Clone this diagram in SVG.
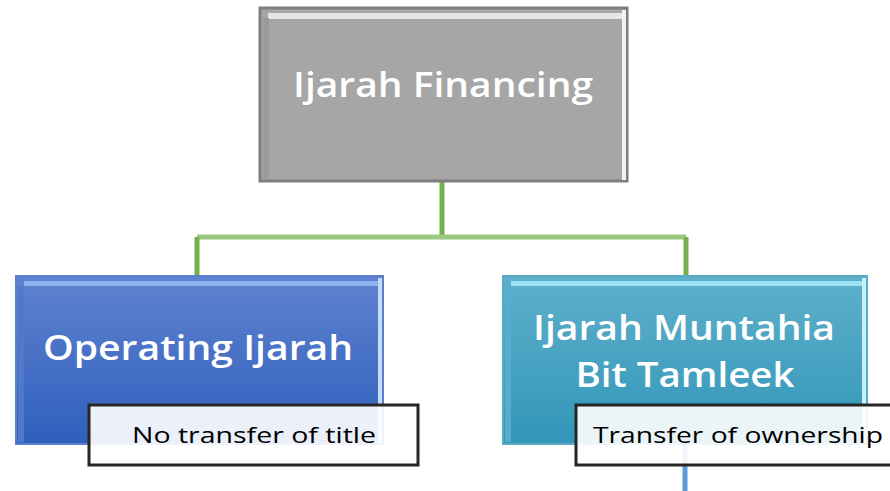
<svg xmlns="http://www.w3.org/2000/svg" width="890" height="491" viewBox="0 0 890 491">
<defs>
<linearGradient id="gBlue" x1="0" y1="0" x2="0" y2="1">
<stop offset="0" stop-color="#5f82cf"/>
<stop offset="1" stop-color="#2f60bd"/>
</linearGradient>
<linearGradient id="gTeal" x1="0" y1="0" x2="0" y2="1">
<stop offset="0" stop-color="#5eb0cb"/>
<stop offset="1" stop-color="#3296b8"/>
</linearGradient>
<style>
.t{font-family:"Open Sans","Liberation Sans",sans-serif;fill:#ffffff;font-size:35px;font-weight:600}
.c{font-family:"Open Sans","Liberation Sans",sans-serif;fill:#000000;font-size:22px}
.cb{fill:#ffffff;fill-opacity:0.9;stroke:#262626;stroke-width:3}
.conn{fill:none;stroke:#74b04c;stroke-width:5}
</style>
</defs>
<rect width="890" height="491" fill="#ffffff"/>
<g id="connectors">
<path class="conn" d="M442 181 V237"/>
<path d="M197 237 H686" fill="none" stroke="#9cc880" stroke-width="5"/>
<path class="conn" d="M197 237 V277 M686 237 V277"/>
<path d="M685 444 V491" fill="none" stroke="#5b9bd5" stroke-width="5"/>
</g>
<g id="top">
<rect x="260" y="8" width="367" height="173" fill="#a6a6a6" stroke="#7f7f7f" stroke-width="3"/>
<rect x="268" y="13" width="354" height="6" fill="#e6e6e6"/>
<rect x="622" y="10" width="4" height="170" fill="#f2f2f2"/>
<rect x="263" y="18" width="6" height="160" fill="#9a9a9a"/>
<text class="t" x="443" y="97" text-anchor="middle" textLength="300" lengthAdjust="spacingAndGlyphs">Ijarah Financing</text>
</g>
<g id="left">
<rect x="16" y="276" width="367" height="168" fill="url(#gBlue)" stroke="#5b7fcc" stroke-width="2"/>
<rect x="24" y="281" width="354" height="5" fill="#8fb3f0"/>
<rect x="378" y="278" width="4" height="165" fill="#c6dcf8"/>
<rect x="18" y="286" width="6" height="156" fill="#5278c9"/>
<text class="t" x="198" y="360" text-anchor="middle" textLength="310" lengthAdjust="spacingAndGlyphs">Operating Ijarah</text>
</g>
<g id="right">
<rect x="503" y="276" width="364" height="168" fill="url(#gTeal)" stroke="#5aaac6" stroke-width="2"/>
<rect x="511" y="281" width="351" height="5" fill="#9de2f4"/>
<rect x="862" y="278" width="4" height="165" fill="#c8eef8"/>
<rect x="505" y="286" width="6" height="156" fill="#55aecb"/>
<text class="t" x="684" y="340" text-anchor="middle" textLength="302" lengthAdjust="spacingAndGlyphs">Ijarah Muntahia</text>
<text class="t" x="685" y="387" text-anchor="middle" textLength="219" lengthAdjust="spacingAndGlyphs">Bit Tamleek</text>
</g>
<g id="note-left">
<rect class="cb" x="89" y="405" width="329" height="60"/>
<text class="c" x="132" y="443" textLength="244" lengthAdjust="spacingAndGlyphs">No transfer of title</text>
</g>
<g id="note-right">
<rect class="cb" x="576" y="405" width="330" height="60"/>
<text class="c" x="593" y="443" textLength="290" lengthAdjust="spacingAndGlyphs">Transfer of ownership</text>
</g>
</svg>
